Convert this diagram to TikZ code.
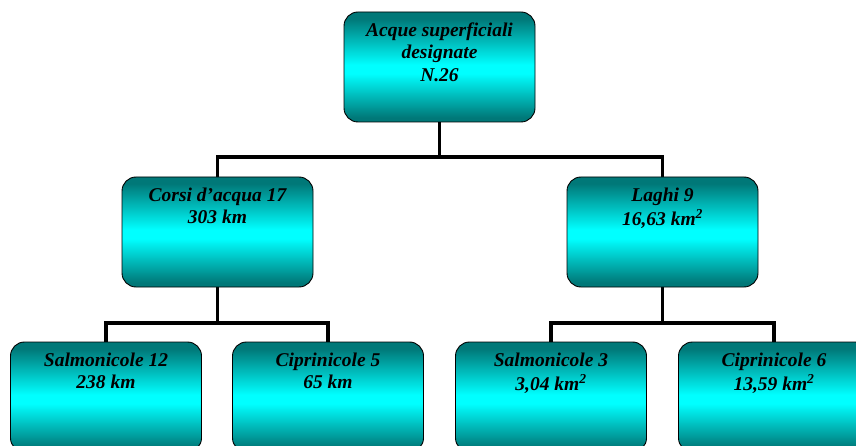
\documentclass[tikz,border=0pt]{standalone}
\usepackage{fontspec}
\setmainfont{Liberation Serif}
\usetikzlibrary{positioning,backgrounds}

\definecolor{tealdark}{RGB}{0,120,120}
\definecolor{aquabright}{RGB}{0,255,255}
\pgfdeclareverticalshading{acquashade}{100bp}{color(0bp)=(tealdark); color(27bp)=(tealdark); color(47bp)=(aquabright); color(51bp)=(aquabright); color(72bp)=(tealdark); color(100bp)=(tealdark)}

\tikzset{
  acquabox/.style={draw=black, line width=0.9pt, rounded corners=14pt, shading=acquashade, inner sep=0pt,
    font=\bfseries\itshape\fontsize{19.5}{22.5}\selectfont},
  ramo/.style={line width=3.8pt}
}
\newcommand{\boxtext}[1]{\parbox[c][110pt][t]{191pt}{\centering\vspace*{8.5pt}\strut#1}}

\begin{document}
\begin{tikzpicture}[x=1pt,y=-1pt]
  \path[use as bounding box, clip] (0,0) rectangle (856,446);

  % livello 1
  \node[acquabox] (acque) at (439.5,67) {\boxtext{Acque superficiali\\designate\\N.26}};

  % livello 2
  \node[acquabox] (corsi) at (217.5,232) {\boxtext{Corsi d'acqua 17\\303 km}};
  \node[acquabox] (laghi) at (662.5,232) {\boxtext{Laghi 9\\16,63 km\textsuperscript{2}}};

  % livello 3
  \node[acquabox] (salmoC) at (106,397) {\boxtext{Salmonicole 12\\238 km}};
  \node[acquabox] (ciprC) at (328,397) {\boxtext{Ciprinicole 5\\65 km}};
  \node[acquabox] (salmoL) at (551,397) {\boxtext{Salmonicole 3\\3,04 km\textsuperscript{2}}};
  \node[acquabox] (ciprL) at (774,397) {\boxtext{Ciprinicole 6\\13,59 km\textsuperscript{2}}};

  % rami
  \coordinate (nodo1) at (439.5,157);
  \coordinate (nodo2) at (217.5,323);
  \coordinate (nodo3) at (662.5,323);
  \begin{scope}[on background layer]
    \draw[ramo] (acque.south) -- (nodo1);
    \draw[ramo] (corsi.north) |- (nodo1) -| (laghi.north);
    \draw[ramo] (corsi.south) -- (nodo2);
    \draw[ramo] (salmoC.north) |- (nodo2) -| (ciprC.north);
    \draw[ramo] (laghi.south) -- (nodo3);
    \draw[ramo] (salmoL.north) |- (nodo3) -| (ciprL.north);
  \end{scope}
\end{tikzpicture}
\end{document}
